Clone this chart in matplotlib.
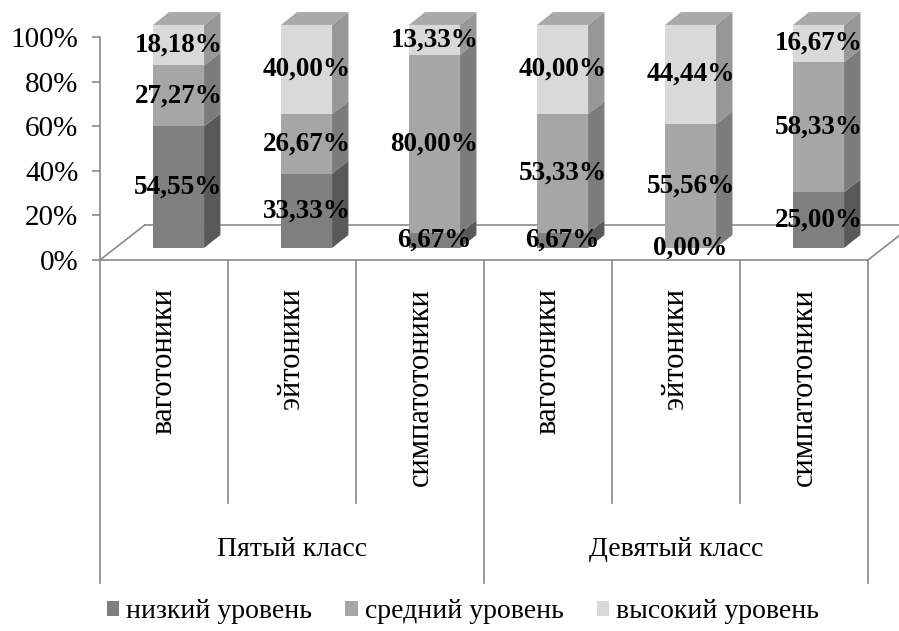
import matplotlib
matplotlib.use('Agg')
import matplotlib.pyplot as plt
from matplotlib.patches import Polygon, Patch
from matplotlib.ticker import FuncFormatter

# ---- data -------------------------------------------------------------
categories = ['ваготоники', 'эйтоники', 'симпатотоники',
              'ваготоники', 'эйтоники', 'симпатотоники']
groups = ['Пятый класс', 'Девятый класс']
series_names = ['низкий уровень', 'средний уровень', 'высокий уровень']
low = [54.55, 33.33, 6.67, 6.67, 0.00, 25.00]
mid = [27.27, 26.67, 80.00, 53.33, 55.56, 58.33]
high = [18.18, 40.00, 13.33, 40.00, 44.44, 16.67]
yticks = [0, 20, 40, 60, 80, 100]

# ---- style ------------------------------------------------------------
front_colors = ['#7f7f7f', '#a6a6a6', '#d9d9d9']
side_colors = ['#595959', '#7c7c7c', '#979797']
top_color = '#a9a9a9'
line_gray = '#8a8a8a'

plt.rcParams['font.family'] = ['Liberation Serif', 'DejaVu Serif']

W, H = 899, 631
fig = plt.figure(figsize=(W / 100, H / 100), dpi=100)

# pseudo-3D offsets (in data units of the main axes)
FLOOR_DX, FLOOR_DY = 0.35, 15.7      # depth of the floor
SHIFT_DX, SHIFT_DY = 0.113, 5.4      # bar front face placed inside the floor
DEPTH_DX, DEPTH_DY = 0.128, 5.8      # thickness of each bar
BAR_W = 0.40

ax = fig.add_axes([100 / W, (H - 260) / H, 768 / W, 223 / H])
ax.set_xlim(0, 6)
ax.set_ylim(0, 100)
ax.patch.set_visible(False)
for s in ['top', 'right', 'bottom']:
    ax.spines[s].set_visible(False)
ax.spines['left'].set_color(line_gray)
ax.spines['left'].set_linewidth(1.2)
ax.set_xticks([])
ax.set_yticks(yticks)
ax.yaxis.set_major_formatter(FuncFormatter(lambda v, p: f'{v:.0f}%'))
ax.tick_params(axis='y', length=5.5, width=1.2, color=line_gray, pad=10,
               labelsize=21, labelcolor='black')

# floor
floor_kw = dict(color=line_gray, lw=1.2, clip_on=False, zorder=1)
ax.plot([0, 6], [0, 0], **floor_kw)
ax.plot([FLOOR_DX, 6 + FLOOR_DX], [FLOOR_DY, FLOOR_DY], **floor_kw)
ax.plot([0, FLOOR_DX], [0, FLOOR_DY], **floor_kw)
ax.plot([6, 6 + FLOOR_DX], [0, FLOOR_DY], **floor_kw)

# stacked 3D-looking columns
series = [low, mid, high]
for i in range(len(categories)):
    xc = i + 0.5 + SHIFT_DX
    xl, xr = xc - BAR_W / 2, xc + BAR_W / 2
    base = 0.0
    for j, vals in enumerate(series):
        v = vals[i]
        b = base + SHIFT_DY
        t = base + v + SHIFT_DY
        ax.bar(xc, v, width=BAR_W, bottom=b, color=front_colors[j],
               linewidth=0, zorder=3, clip_on=False)
        if v > 0:
            side = Polygon([(xr, b), (xr + DEPTH_DX, b + DEPTH_DY),
                            (xr + DEPTH_DX, t + DEPTH_DY), (xr, t)],
                           closed=True, facecolor=side_colors[j],
                           edgecolor='none', zorder=3, clip_on=False)
            ax.add_patch(side)
        base += v
    top_y = base + SHIFT_DY
    top = Polygon([(xl, top_y), (xr, top_y),
                   (xr + DEPTH_DX, top_y + DEPTH_DY),
                   (xl + DEPTH_DX, top_y + DEPTH_DY)],
                  closed=True, facecolor=top_color, edgecolor='none',
                  zorder=3, clip_on=False)
    ax.add_patch(top)

    # value labels centred on each segment
    base = 0.0
    for j, vals in enumerate(series):
        v = vals[i]
        label = f'{v:.2f}'.replace('.', ',') + '%'
        ax.text(xc, base + v / 2 + SHIFT_DY, label, ha='center', va='center',
                fontsize=19.5, fontweight='bold', color='black', zorder=5,
                clip_on=False)
        base += v

# ---- hierarchical category axis ---------------------------------------
ax2 = fig.add_axes([100 / W, (H - 583) / H, 768 / W, 323 / H])
ax2.set_xlim(0, 6)
ax2.set_ylim(1, 0)
ax2.axis('off')
for x in range(7):
    y_end = 1.0 if x % 3 == 0 else 0.752
    ax2.plot([x, x], [0, y_end], color=line_gray, lw=1.2, clip_on=False)
for i, name in enumerate(categories):
    ax2.text(i + 0.5, 0.087, name, rotation=90, ha='center', va='top',
             fontsize=22, color='black')
for g, name in enumerate(groups):
    ax2.text(g * 3 + 1.5, 0.895, name, ha='center', va='center',
             fontsize=20, color='black')

# ---- legend -----------------------------------------------------------
handles = [Patch(facecolor=c, edgecolor='none') for c in front_colors]
fig.legend(handles, series_names, loc='center', ncol=3, frameon=False,
           bbox_to_anchor=(0.515, 1 - 612 / H), fontsize=20,
           handlelength=0.45, handleheight=0.45, handletextpad=0.25,
           columnspacing=1.2, borderpad=0)

fig.savefig('out.png', dpi=100)
